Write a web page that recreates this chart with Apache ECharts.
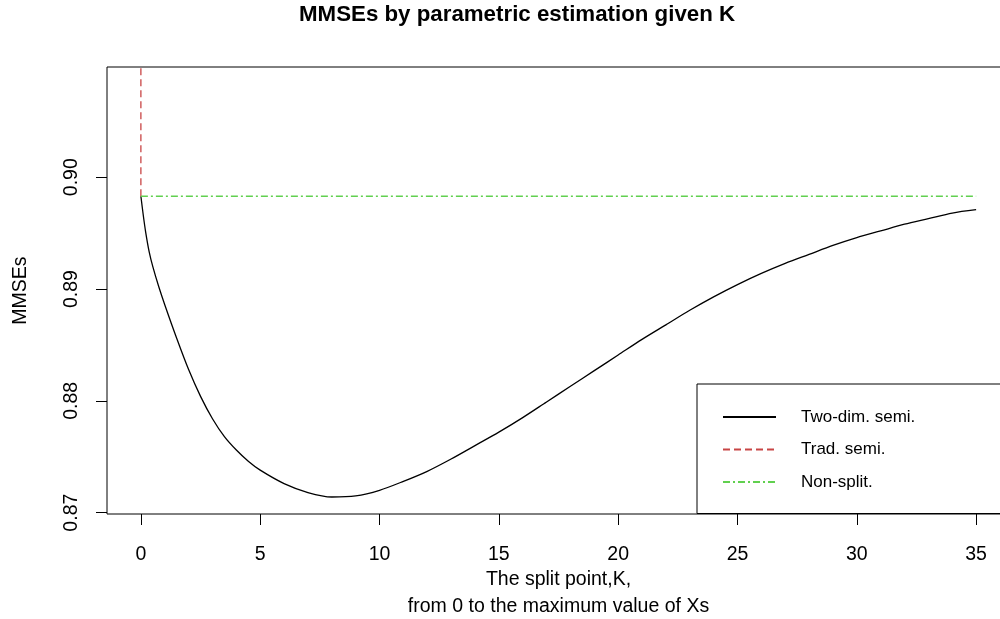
<!DOCTYPE html>
<html>
<head>
<meta charset="utf-8">
<script src="https://cdn.jsdelivr.net/npm/echarts@6/dist/echarts.min.js"></script>
<style>
html,body{margin:0;padding:0;background:#fff;}
#c{width:1000px;height:619px;}
</style>
</head>
<body>
<div id="c"></div>
<script>
// ---- data ----
var kValues = [0, 0.1, 0.2, 0.35, 0.5, 0.75, 1, 1.5, 2, 2.5, 3, 3.5, 4, 4.5, 5, 6, 7, 8, 9, 10,
  11, 12, 13, 14, 15, 16, 17, 18, 19, 20, 21, 22, 23, 24, 25, 26, 27, 28, 29, 30,
  31, 32, 33, 34, 35];
var mmseTwoDim = [0.8983, 0.8966, 0.8951, 0.8933, 0.8920, 0.8902, 0.8886, 0.8856, 0.8828, 0.8804,
  0.8784, 0.8768, 0.8756, 0.8746, 0.8738, 0.8726, 0.8718, 0.8714, 0.8715, 0.8720,
  0.8728, 0.8737, 0.8748, 0.8760, 0.8772, 0.8785, 0.8799, 0.8813, 0.8827, 0.8841,
  0.8855, 0.8868, 0.8881, 0.8893, 0.8904, 0.8914, 0.8923, 0.8931, 0.8939, 0.8946,
  0.8952, 0.8958, 0.8963, 0.8968, 0.8971];
var tradK = [0, 0];
var tradMMSE = [0.8983, 0.9120];
var nonSplitK = [0, 35];
var nonSplitMMSE = [0.8983, 0.8983];
var xTicks = [0, 5, 10, 15, 20, 25, 30, 35];
var yTicks = [0.87, 0.88, 0.89, 0.90];
var seriesNames = ['Two-dim. semi.', 'Trad. semi.', 'Non-split.'];

function zip(a, b) { return a.map(function (v, i) { return [v, b[i]]; }); }

var FONT = '"Liberation Sans", Arial, sans-serif';
var chart = echarts.init(document.getElementById('c'), null, {renderer: 'canvas'});
chart.setOption({
  animation: false,
  backgroundColor: '#ffffff',
  textStyle: {fontFamily: FONT},
  title: {
    text: 'MMSEs by parametric estimation given K',
    left: 299, top: 4, padding: 0,
    textStyle: {fontFamily: FONT, fontSize: 22.3, fontWeight: 'bold', color: '#000'}
  },
  grid: {left: 107, top: 67, width: 903, height: 447, show: true,
    borderColor: '#000', borderWidth: 1, backgroundColor: 'transparent',
    containLabel: false, outerBoundsMode: 'none'},
  xAxis: {
    type: 'value', min: -1.42, max: 36.42,
    name: 'The split point,K,\nfrom 0 to the maximum value of Xs',
    nameLocation: 'middle', nameGap: 52, nameMoveOverlap: false,
    nameTextStyle: {fontFamily: FONT, fontSize: 19.5, color: '#000', lineHeight: 27},
    axisLine: {show: false, onZero: false},
    axisTick: {show: true, inside: false, length: 11, lineStyle: {color: '#000', width: 1}, customValues: xTicks},
    axisLabel: {show: true, margin: 31, fontFamily: FONT, fontSize: 19.5, color: '#000', customValues: xTicks},
    splitLine: {show: false}
  },
  yAxis: {
    type: 'value', min: 0.86988, max: 0.90986,
    name: 'MMSEs', nameLocation: 'middle', nameGap: 76, nameMoveOverlap: false,
    nameTextStyle: {fontFamily: FONT, fontSize: 19.5, color: '#000'},
    axisLine: {show: false, onZero: false},
    axisTick: {show: true, inside: false, length: 11, lineStyle: {color: '#000', width: 1}, customValues: yTicks},
    axisLabel: {show: true, margin: 25, rotate: 90, fontFamily: FONT, fontSize: 19.5, color: '#000',
      customValues: yTicks, formatter: function (v) { return v.toFixed(2); }},
    splitLine: {show: false}
  },
  legend: {
    orient: 'vertical', left: 697, top: 384,
    padding: [24.5, 300, 23, 25],
    borderColor: '#000', borderWidth: 1, backgroundColor: '#fff',
    itemWidth: 53, itemHeight: 17, itemGap: 15.5,
    itemStyle: {opacity: 0},
    textStyle: {fontFamily: FONT, fontSize: 17, color: '#000', lineHeight: 17, padding: [0, 0, 0, 20]},
    data: seriesNames
  },
  series: [
    {name: seriesNames[0], type: 'line', data: zip(kValues, mmseTwoDim), showSymbol: false, symbol: 'none',
      smooth: 0.3, lineStyle: {color: '#000', width: 1.3}, itemStyle: {color: '#000', opacity: 0}, z: 2},
    {name: seriesNames[1], type: 'line', data: zip(tradK, tradMMSE), showSymbol: false, symbol: 'none',
      lineStyle: {color: '#C84545', width: 1.3, type: [7, 4]}, itemStyle: {color: '#C84545', opacity: 0}, z: 3},
    {name: seriesNames[2], type: 'line', data: zip(nonSplitK, nonSplitMMSE), showSymbol: false, symbol: 'none',
      lineStyle: {color: '#61D04F', width: 1.3, type: [7, 3, 2, 3]}, itemStyle: {color: '#61D04F', opacity: 0}, z: 4}
  ]
});
</script>
</body>
</html>
